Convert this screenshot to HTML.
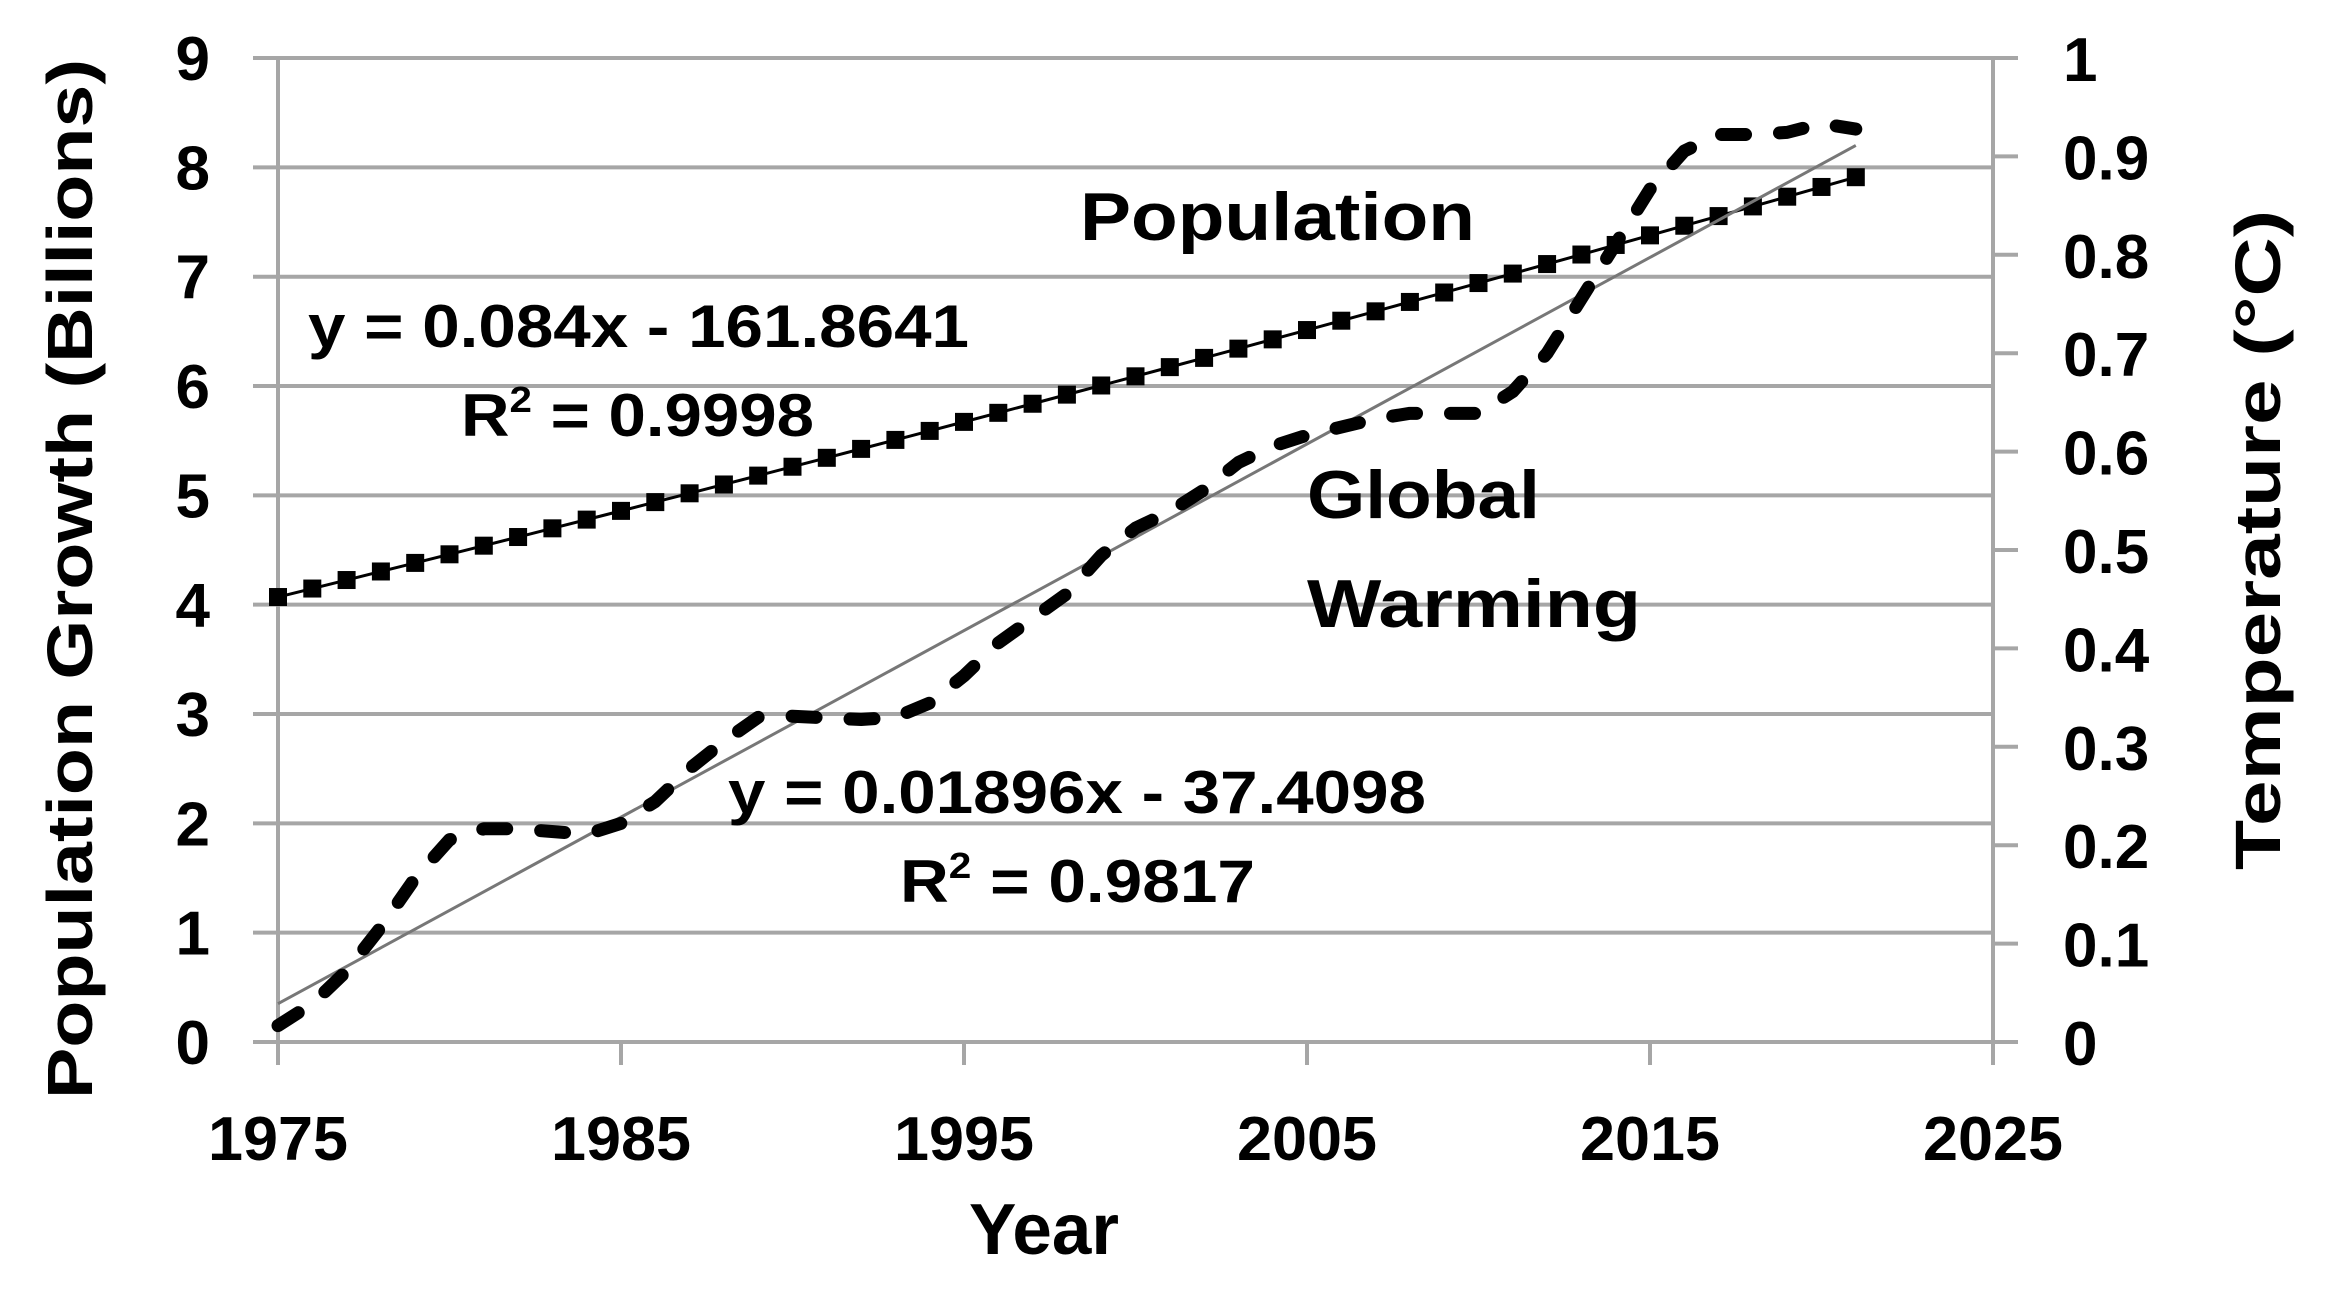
<!DOCTYPE html>
<html><head><meta charset="utf-8"><style>
html,body{margin:0;padding:0;background:#fff;}
svg{display:block;}
text{font-family:"Liberation Sans",sans-serif;fill:#000;font-weight:bold;}
</style></head><body>
<svg id="s" width="2334" height="1292" viewBox="0 0 2334 1292" xmlns="http://www.w3.org/2000/svg">
<g id="grid" stroke="#a6a6a6" stroke-width="4"></g>
<g id="lab"></g>
<polyline id="poptrend" fill="none" stroke="#000" stroke-width="3"/>
<g id="popm"></g>
<line id="ttrend" stroke="#777" stroke-width="3"/>
<path id="temp" fill="none" stroke="#000" stroke-width="13" stroke-linecap="round" stroke-linejoin="round" stroke-dasharray="24 34"/>
<text x="1080" y="240" font-size="68" textLength="395" lengthAdjust="spacingAndGlyphs">Population</text>
<text x="308" y="347" font-size="60" textLength="661" lengthAdjust="spacingAndGlyphs">y = 0.084x - 161.8641</text>
<text x="461" y="436" font-size="60" textLength="353" lengthAdjust="spacingAndGlyphs">R<tspan font-size="36" dy="-24">2</tspan><tspan dy="24"> = 0.9998</tspan></text>
<text x="1307" y="518" font-size="68" textLength="233" lengthAdjust="spacingAndGlyphs">Global</text>
<text x="1307" y="627" font-size="68" textLength="334" lengthAdjust="spacingAndGlyphs">Warming</text>
<text x="728" y="813" font-size="60" textLength="698" lengthAdjust="spacingAndGlyphs">y = 0.01896x - 37.4098</text>
<text x="900" y="902" font-size="60" textLength="355" lengthAdjust="spacingAndGlyphs">R<tspan font-size="36" dy="-24">2</tspan><tspan dy="24"> = 0.9817</tspan></text>
<text x="1044" y="1254" font-size="72" text-anchor="middle" textLength="150" lengthAdjust="spacingAndGlyphs">Year</text>
<text transform="translate(92,579) rotate(-90)" font-size="64" text-anchor="middle" textLength="1040" lengthAdjust="spacingAndGlyphs">Population Growth (Billions)</text>
<text transform="translate(2280,540) rotate(-90)" font-size="64" text-anchor="middle" textLength="660" lengthAdjust="spacingAndGlyphs">Temperature (°C)</text>
</svg>
<script>
var NS="http://www.w3.org/2000/svg";
function X(yr){return 278+(yr-1975)*34.3;}
function Y(v){return 1042-v*109.33;}
function el(p,t,a,txt){var e=document.createElementNS(NS,t);for(var k in a)e.setAttribute(k,a[k]);if(txt!=null)e.textContent=txt;document.getElementById(p).appendChild(e);return e;}
for(var i=0;i<=9;i++){var y=Y(i);el("grid","line",{x1:253,x2:1993,y1:y,y2:y});
el("lab","text",{x:210,y:y+22,"font-size":62,"text-anchor":"end"},String(i));}
el("grid","line",{x1:278,x2:278,y1:58,y2:1065});
el("grid","line",{x1:1993,x2:1993,y1:58,y2:1065});
for(var yr=1975;yr<=2025;yr+=10){el("grid","line",{x1:X(yr),x2:X(yr),y1:1042,y2:1065});
el("lab","text",{x:X(yr),y:1160,"font-size":62,"text-anchor":"middle",textLength:140,lengthAdjust:"spacingAndGlyphs"},String(yr));}
for(var j=0;j<=10;j++){var ty=1042-j*98.4;el("grid","line",{x1:1993,x2:2018,y1:ty,y2:ty});
el("lab","text",{x:2063,y:ty+23,"font-size":62},j==10?"1":j==0?"0":"0."+j);}
var pts=[];
for(var yr=1975;yr<=2021;yr++){var t=yr-1975;var v=4.07+0.0775*t+0.00013*t*t;var x=X(yr),y=Y(v);pts.push(x+","+y);
el("popm","rect",{x:x-9,y:y-9,width:18,height:18,fill:"#000"});}
document.getElementById("poptrend").setAttribute("points",pts.join(" "));
var tt=document.getElementById("ttrend");tt.setAttribute("x1",X(1975));tt.setAttribute("y1",Y(0.35));tt.setAttribute("x2",X(2021));tt.setAttribute("y2",Y(8.2));
var T=[[1975,0.15],[1976,0.35],[1977,0.65],[1978,1.05],[1979,1.5],[1980,1.85],[1981,1.95],[1982,1.95],[1984,1.9],[1985,2.0],[1986,2.2],[1987,2.5],[1988,2.75],[1989,2.97],[1990,2.98],[1992,2.95],[1993,2.97],[1994,3.1],[1995,3.35],[1996,3.65],[1998,4.1],[1999,4.45],[2000,4.7],[2001,4.85],[2002,5.05],[2003,5.3],[2004,5.45],[2005,5.55],[2007,5.7],[2008,5.75],[2010,5.75],[2011,5.95],[2012,6.3],[2013,6.8],[2014,7.3],[2015,7.8],[2016,8.15],[2017,8.3],[2018,8.3],[2019,8.32],[2020,8.4],[2021,8.35]];
var d="M"+X(T[0][0])+","+Y(T[0][1]);
for(var k=1;k<T.length;k++){d+=" L"+X(T[k][0])+","+Y(T[k][1]);}
document.getElementById("temp").setAttribute("d",d);
</script>
</body></html>
